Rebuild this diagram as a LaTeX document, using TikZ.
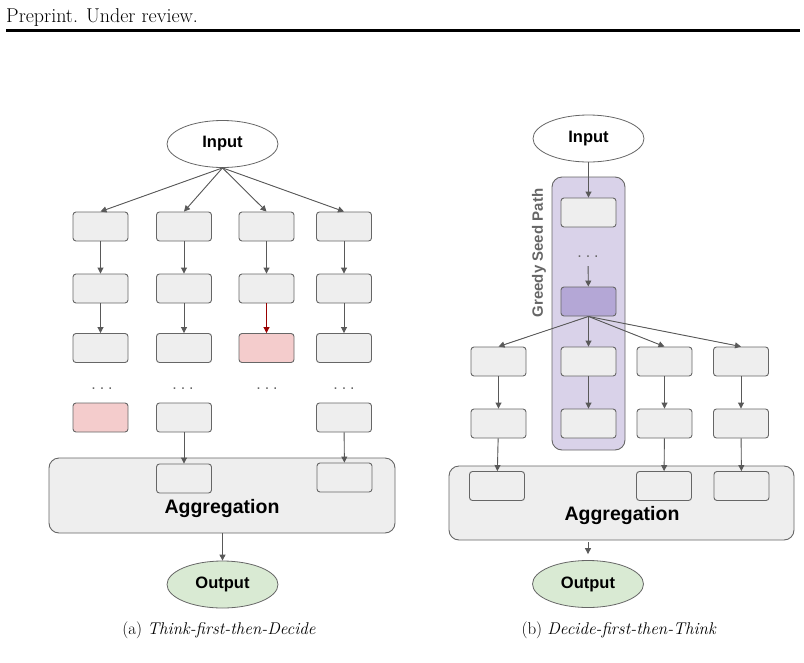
\documentclass[tikz,border=0pt]{standalone}
\usepackage{fontspec}
\usetikzlibrary{positioning,arrows.meta,shapes.geometric}
\newfontfamily\lab{Liberation Sans}
\definecolor{boxg}{HTML}{EEEEEE}
\definecolor{edge}{HTML}{666666}
\definecolor{arr}{HTML}{595959}
\definecolor{bad}{HTML}{F4CCCC}
\definecolor{badarr}{HTML}{990000}
\definecolor{good}{HTML}{D9EAD3}
\definecolor{seed}{HTML}{D9D2E9}
\definecolor{seedc}{HTML}{B4A7D6}
\newcommand{\lb}{\lab\bfseries\fontsize{16.5}{18}\selectfont}
\newcommand{\agt}{\lab\bfseries\fontsize{19.5}{21}\selectfont}
\newcommand{\gap}{.\kern4pt.\kern4pt.}

\begin{document}
\begin{tikzpicture}[x=1pt, y=-1pt, >={Triangle[length=6pt,width=6pt]},
  s/.style={draw=edge, line width=0.9pt, rounded corners=3pt, fill=#1, minimum width=55pt,
            minimum height=29pt, inner sep=0pt},
  s/.default=boxg,
  io/.style={ellipse, draw=edge, line width=0.8pt, fill=#1, minimum width=111pt,
             minimum height=47pt, inner sep=0pt, font=\lb},
  io/.default=white,
  agg/.style={draw=edge, line width=0.9pt, rounded corners=10pt, fill=boxg, inner sep=0pt},
  dts/.style={text=edge, font=\lab\fontsize{16}{16}\selectfont, inner sep=0pt},
  flow/.style={->, line width=0.9pt, draw=arr, fill=arr}]
\useasboundingbox (0,0) rectangle (804,662);
% -- page head
\node[anchor=base west, font=\fontsize{20}{22}\selectfont, inner sep=0pt] (hdr) at (6,22)
  {Preprint. Under review.};
\coordinate (rl) at (6,30); \coordinate (rr) at (800,30);
\draw[line width=3pt] (rl) -- (rr);
% -- (a) think first, then decide
\node[agg, minimum width=346pt, minimum height=75pt] (agA) at (222,495.5) {};
\node[io] (inA) at (222.5,144) {Input};
\foreach \x [count=\i] in {100.5,184,266.5,344} {
  \node[s] (a1\i) at (\x,226.5) {};
  \node[s] (a2\i) at (\x,288.5) {};
  \draw[flow] (inA.south) -- (a1\i.north);
  \draw[flow] (a1\i) -- (a2\i);
}
\foreach \x/\c [count=\i] in {100.5/boxg,184/boxg,266.5/bad,344/boxg}
  \node[s=\c] (a3\i) at (\x,348) {};
\foreach \i in {1,2,4} \draw[flow] (a2\i) -- (a3\i);
\draw[flow, draw=badarr, fill=badarr] (a23) -- (a33);
\foreach \x [count=\i] in {102,183,267,344}
  \node[dts, anchor=base] (ad\i) at (\x,389) {\gap};
\node[s=bad] (a41) at (100.5,417.5) {};
\node[s] (a42) at (184,417.5) {};
\node[s] (a44) at (344,417.5) {};
\node[s] (b2) at (184,478.5) {};
\node[s] (b4) at (344.5,477.5) {};
\draw[flow] (a42) -- (b2); \draw[flow] (a44) -- (b4);
\node[font=\agt, inner sep=0pt] (agtA) at (222,508) {Aggregation};
\node[io=good] (outA) at (222.5,584.5) {Output};
\draw[flow] (outA.north |- agA.south) -- (outA);
\node[font=\fontsize{17}{20}\selectfont] (capA) at (219,630) {(a) \textit{Think-first-then-Decide}};
% -- (b) decide first, then think
\node[agg, minimum width=345pt, minimum height=74pt] (agB) at (621.5,503) {};
\node[draw=edge, line width=0.9pt, fill=seed, rounded corners=10pt, minimum width=73pt,
      minimum height=273pt] (path) at (588.5,313.5) {};
\node[rotate=90, text=edge, font=\lab\bfseries\fontsize{15}{16}\selectfont, inner sep=0pt]
  (plab) at (539,253) {Greedy Seed Path};
\node[io] (inB) at (588.5,138.5) {Input};
\node[s] (g1) at (588.5,212.5) {};
\node[dts, anchor=base] (gd) at (588,257) {\gap};
\node[s=seedc] (g2) at (588.5,301.5) {};
\draw[flow] (inB) -- (g1);
\draw[flow, shorten <=9pt] (gd) -- (g2);
\foreach \x [count=\i] in {498.5,588.5,664.5,741} {
  \node[s] (r1\i) at (\x,361.5) {};
  \node[s] (r2\i) at (\x,423.5) {};
  \draw[flow] (g2.south) -- (r1\i.north);
  \draw[flow] (r1\i) -- (r2\i);
}
\foreach \x/\i in {497/1,664/3,741.5/4} {
  \node[s] (c\i) at (\x,486) {};
  \draw[flow] (r2\i) -- (c\i);
}
\node[font=\agt, inner sep=0pt] (agtB) at (622,515) {Aggregation};
\node[io=good] (outB) at (588,584) {Output};
\draw[flow, shorten <=2pt, shorten >=6pt] (outB.north |- agB.south) -- (outB);
\node[font=\fontsize{17}{20}\selectfont] (capB) at (619,630) {(b) \textit{Decide-first-then-Think}};
\end{tikzpicture}
\end{document}
